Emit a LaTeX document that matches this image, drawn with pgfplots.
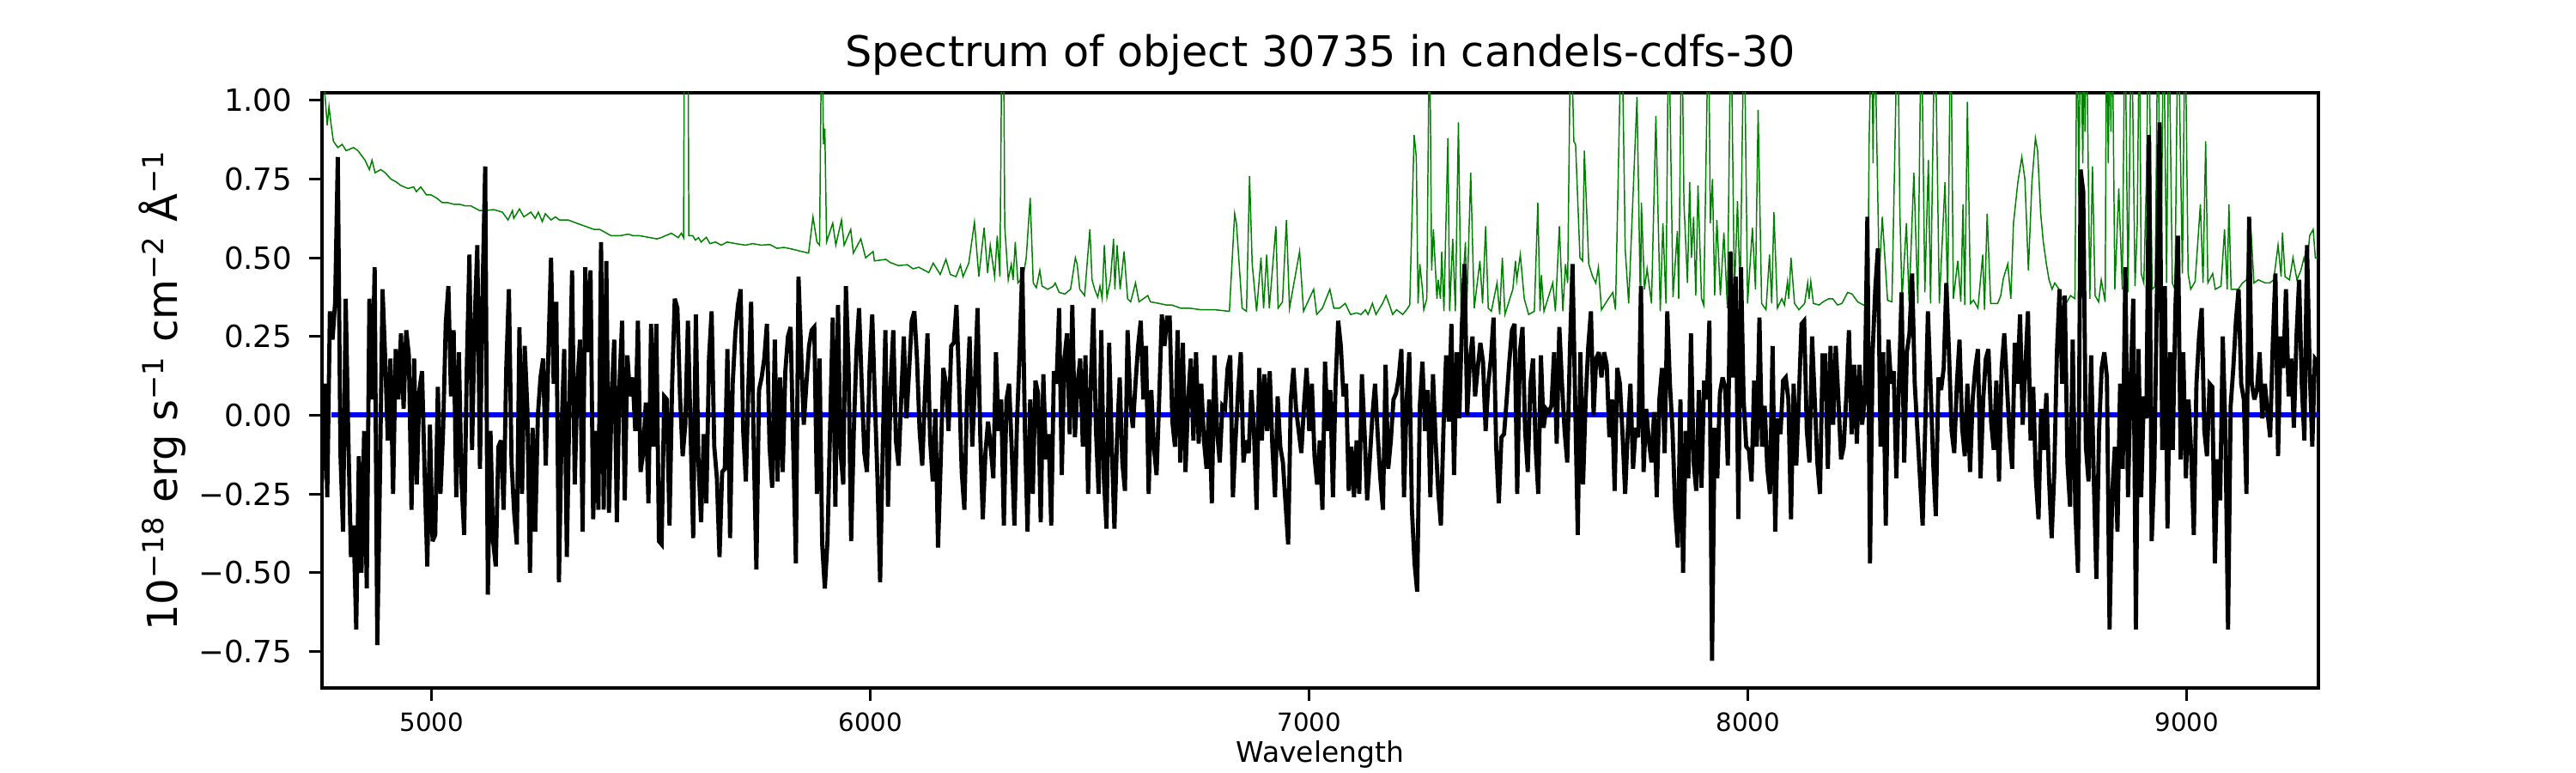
\documentclass[border=0pt]{standalone}
\usepackage{pgfplots}
\usepackage{pgfplotstable}
\pgfplotsset{compat=1.18}
\usepackage{fontspec}
\setmainfont{DejaVu Sans}
\definecolor{mplgreen}{HTML}{008000}
\definecolor{mplblue}{HTML}{0000FF}

\pgfplotstableread[row sep=\\]{f\\
-0.21\\ 0.10\\ -0.26\\ 0.33\\ 0.24\\ 0.36\\ 0.82\\ -0.12\\ -0.37\\ 0.37\\
-0.07\\ -0.45\\ -0.35\\ -0.68\\ -0.13\\ -0.50\\ -0.05\\ -0.55\\ 0.37\\ 0.05\\
0.47\\ -0.73\\ -0.20\\ 0.40\\ 0.18\\ -0.08\\ 0.18\\ -0.25\\ 0.21\\ 0.05\\
0.26\\ 0.02\\ 0.27\\ 0.19\\ -0.30\\ 0.18\\ -0.22\\ 0.08\\ 0.14\\ -0.19\\
-0.48\\ -0.03\\ -0.40\\ -0.38\\ 0.09\\ -0.25\\ -0.05\\ 0.29\\ 0.41\\ 0.06\\
0.27\\ -0.26\\ 0.20\\ -0.21\\ -0.38\\ 0.15\\ 0.51\\ -0.11\\ 0.30\\ 0.54\\
-0.17\\ 0.40\\ 0.79\\ -0.57\\ -0.05\\ -0.40\\ -0.48\\ -0.10\\ -0.08\\ -0.30\\
0.15\\ 0.40\\ -0.15\\ -0.31\\ -0.41\\ 0.28\\ -0.25\\ 0.22\\ 0.02\\ -0.50\\
-0.04\\ -0.37\\ 0.00\\ 0.12\\ 0.18\\ -0.16\\ 0.20\\ 0.50\\ 0.10\\ 0.36\\
-0.53\\ -0.05\\ 0.21\\ -0.45\\ 0.05\\ 0.46\\ -0.22\\ 0.10\\ 0.24\\ -0.37\\
0.47\\ 0.20\\ 0.46\\ -0.33\\ -0.05\\ -0.30\\ 0.55\\ -0.30\\ 0.49\\ -0.31\\
0.05\\ 0.24\\ -0.34\\ 0.10\\ 0.30\\ -0.27\\ 0.19\\ 0.06\\ 0.12\\ -0.05\\
0.30\\ -0.18\\ -0.12\\ 0.04\\ -0.28\\ 0.29\\ -0.10\\ 0.29\\ -0.40\\ -0.41\\
0.06\\
0.05\\ -0.35\\ 0.10\\ 0.37\\ 0.34\\ 0.06\\ -0.13\\ -0.03\\ 0.30\\ -0.05\\
-0.39\\ 0.32\\ -0.15\\ -0.34\\ -0.06\\ -0.28\\ 0.18\\ 0.33\\ -0.10\\ -0.20\\
-0.45\\ -0.18\\ -0.17\\ 0.21\\ -0.39\\ 0.10\\ 0.26\\ 0.35\\ 0.40\\ -0.05\\
-0.21\\ 0.10\\ 0.36\\ -0.10\\ -0.49\\ 0.08\\ 0.12\\ 0.18\\ 0.29\\ -0.10\\
-0.23\\ 0.24\\ -0.21\\ 0.12\\ -0.18\\ 0.14\\ 0.25\\ 0.28\\ -0.10\\ -0.47\\
0.44\\ 0.20\\ -0.03\\ 0.10\\ 0.22\\ 0.27\\ 0.28\\ -0.25\\ 0.18\\ -0.41\\
-0.55\\ -0.40\\ -0.04\\ 0.31\\ -0.29\\ 0.35\\ -0.12\\ -0.22\\ 0.41\\ 0.16\\
-0.40\\ -0.05\\ 0.20\\ 0.34\\ 0.10\\ -0.12\\ -0.18\\ 0.15\\ 0.32\\ 0.05\\
-0.20\\ -0.53\\ -0.10\\ 0.27\\ -0.29\\ 0.10\\ 0.27\\ -0.08\\ -0.16\\ 0.05\\
0.25\\ -0.01\\ 0.14\\ 0.30\\ 0.33\\ 0.18\\ -0.05\\ -0.16\\ 0.06\\ 0.26\\
-0.08\\ -0.21\\ 0.02\\ -0.42\\ -0.15\\ 0.15\\ 0.10\\ -0.05\\ 0.22\\ 0.23\\
0.35\\ 0.10\\ -0.18\\ -0.30\\ 0.05\\ 0.25\\ -0.10\\ 0.10\\ 0.34\\ -0.05\\
-0.33\\ -0.12\\ -0.02\\ -0.10\\ -0.20\\ 0.20\\ -0.05\\ 0.05\\ -0.35\\
0.05\\ 0.10\\ -0.11\\ -0.35\\ -0.02\\ 0.20\\ 0.47\\ -0.05\\ -0.37\\ 0.05\\
-0.25\\ 0.11\\ 0.07\\ -0.34\\ 0.13\\ -0.14\\ -0.06\\ -0.35\\ 0.14\\ 0.10\\
0.34\\ -0.19\\ 0.18\\ 0.26\\ -0.06\\ 0.35\\ -0.07\\ 0.10\\ 0.18\\ -0.10\\
0.19\\ -0.25\\ 0.10\\ 0.34\\ -0.05\\ -0.25\\ 0.27\\ -0.20\\ -0.36\\ 0.23\\
-0.10\\ -0.36\\ -0.07\\ 0.12\\ -0.15\\ -0.24\\ 0.27\\ 0.05\\ -0.04\\ 0.10\\
0.22\\ 0.30\\ 0.05\\ 0.22\\ -0.25\\ 0.08\\ -0.10\\ -0.19\\ 0.05\\ 0.32\\
0.22\\ 0.31\\ 0.31\\ -0.02\\ -0.10\\ 0.27\\ -0.15\\ 0.23\\ -0.18\\ 0.05\\
0.18\\ -0.08\\ 0.20\\ -0.09\\ 0.10\\ -0.08\\ -0.17\\ 0.05\\ -0.28\\ 0.19\\
-0.05\\ -0.15\\ 0.03\\ 0.02\\ 0.15\\ 0.19\\ -0.26\\ -0.08\\ 0.08\\ 0.20\\
-0.15\\ -0.08\\ -0.12\\ 0.08\\ -0.05\\ -0.30\\ 0.15\\ -0.08\\ 0.13\\ -0.05\\
0.14\\ -0.10\\ -0.26\\ 0.06\\ -0.10\\ -0.15\\ -0.28\\ -0.41\\ 0.05\\ 0.15\\
0.02\\ -0.05\\ -0.12\\ 0.03\\ 0.15\\ -0.05\\ 0.10\\ -0.13\\ -0.22\\ -0.08\\
-0.30\\ 0.17\\ -0.05\\ 0.08\\ -0.26\\ 0.10\\ 0.30\\ 0.22\\ 0.06\\
0.10\\ -0.24\\ -0.10\\ -0.26\\ -0.08\\ -0.25\\ 0.13\\ -0.05\\ -0.27\\ -0.14\\
0.00\\ 0.10\\ -0.06\\ -0.20\\ -0.30\\ 0.16\\ -0.17\\ -0.08\\ 0.05\\ 0.07\\
0.12\\ 0.21\\ -0.26\\ 0.05\\ 0.20\\ -0.30\\ -0.47\\ -0.56\\ 0.03\\ 0.17\\
-0.05\\ 0.08\\ -0.26\\ 0.13\\ -0.08\\ -0.24\\ -0.35\\ -0.04\\ 0.19\\ -0.02\\
0.29\\ -0.19\\ 0.20\\ -0.01\\ 0.29\\ 0.48\\ 0.00\\ 0.17\\ 0.25\\ 0.06\\
0.15\\ 0.23\\ 0.17\\ -0.05\\ 0.10\\ 0.18\\ 0.31\\ -0.10\\ -0.28\\ -0.07\\
-0.06\\ 0.05\\ 0.17\\ 0.27\\ 0.29\\ -0.25\\ 0.20\\ 0.28\\ -0.05\\ -0.18\\
0.10\\ 0.18\\ -0.10\\ -0.25\\ 0.19\\ -0.04\\ 0.02\\ 0.01\\ 0.03\\ 0.20\\
-0.09\\ 0.28\\ 0.10\\ -0.05\\ -0.15\\ 0.20\\ 0.48\\ 0.05\\ -0.38\\ 0.20\\
-0.22\\ 0.05\\ 0.22\\ 0.33\\ 0.00\\ 0.18\\ 0.20\\ 0.12\\ 0.20\\ 0.16\\
-0.07\\ 0.05\\ -0.24\\ 0.15\\ 0.10\\ -0.06\\ -0.25\\ -0.05\\ 0.10\\ -0.17\\
-0.04\\ -0.07\\ 0.41\\ -0.18\\ 0.02\\ -0.08\\ -0.15\\ 0.01\\ -0.26\\ 0.05\\
0.15\\ -0.12\\ 0.33\\ 0.10\\ -0.05\\ -0.30\\ -0.42\\ 0.05\\ -0.50\\
-0.05\\ -0.20\\ 0.26\\ -0.15\\ -0.24\\ 0.08\\ -0.23\\ 0.11\\ 0.05\\ 0.30\\
-0.78\\ -0.04\\ -0.20\\ 0.07\\ 0.12\\ 0.09\\ -0.16\\ 0.52\\ 0.12\\ 0.44\\
-0.33\\ 0.47\\ 0.05\\ -0.10\\ -0.11\\ -0.21\\ 0.11\\ -0.10\\ 0.31\\ -0.10\\
0.03\\ -0.17\\ -0.25\\ 0.22\\ -0.37\\ -0.01\\ -0.06\\ 0.11\\ 0.12\\ 0.05\\
-0.33\\ 0.10\\ -0.16\\ 0.06\\ 0.29\\ 0.30\\ -0.05\\ -0.15\\ 0.25\\ 0.05\\
-0.15\\ -0.25\\ 0.19\\ 0.19\\ -0.17\\ 0.22\\ -0.03\\ 0.22\\ 0.05\\ -0.14\\
-0.10\\ 0.06\\ 0.27\\ -0.06\\ 0.16\\ -0.09\\ 0.16\\ -0.03\\ 0.05\\ 0.63\\
-0.47\\ 0.20\\ 0.40\\ 0.53\\ -0.10\\ 0.20\\ -0.35\\ 0.24\\ 0.10\\ 0.14\\
-0.20\\ 0.10\\ 0.39\\ -0.15\\ 0.20\\ 0.26\\ 0.45\\ 0.10\\ -0.05\\ -0.20\\
-0.35\\ -0.03\\ 0.33\\ 0.10\\ -0.15\\ -0.32\\ 0.12\\ 0.08\\ 0.15\\ 0.42\\
0.20\\ -0.05\\ -0.12\\ 0.10\\ 0.24\\ -0.04\\ -0.13\\ 0.10\\ -0.18\\ 0.05\\
0.15\\ 0.21\\ -0.20\\ 0.05\\ 0.18\\ 0.21\\ -0.02\\ -0.11\\ 0.11\\ -0.21\\
0.15\\ 0.26\\ 0.10\\ -0.06\\ -0.17\\ 0.23\\ 0.10\\ 0.32\\
-0.03\\ 0.15\\ 0.33\\ -0.08\\ 0.09\\ -0.20\\ -0.33\\ 0.02\\ -0.11\\ 0.07\\
-0.20\\ -0.39\\ -0.18\\ 0.20\\ 0.40\\ 0.10\\ 0.38\\ -0.15\\ -0.29\\ 0.24\\
-0.30\\ -0.50\\ 0.78\\ 0.71\\ -0.10\\ -0.21\\ 0.19\\ -0.20\\ -0.52\\ -0.05\\
0.15\\ 0.20\\ 0.12\\ -0.68\\ -0.25\\ -0.10\\ -0.37\\ 0.10\\ -0.17\\ 0.47\\
-0.26\\ 0.10\\ 0.37\\ -0.68\\ 0.21\\ -0.26\\ 0.06\\ -0.01\\ 0.89\\ -0.40\\
-0.17\\ 0.40\\ 0.93\\ -0.11\\ 0.41\\ -0.36\\ 0.20\\ -0.11\\ 0.34\\ 0.57\\
-0.14\\ 0.20\\ -0.20\\ 0.05\\ -0.12\\ -0.38\\ 0.10\\ 0.25\\ 0.34\\ -0.05\\
-0.13\\ 0.10\\ 0.09\\ -0.47\\ -0.14\\ -0.27\\ 0.25\\ -0.05\\ -0.68\\ 0.03\\
0.15\\ 0.30\\ 0.40\\ 0.10\\ 0.05\\ -0.25\\ 0.63\\ 0.10\\ 0.05\\ 0.08\\
0.20\\ -0.01\\ 0.10\\ 0.01\\ -0.07\\ 0.23\\ 0.45\\ -0.13\\ 0.25\\ 0.15\\
0.40\\ 0.06\\ 0.18\\ -0.04\\ 0.25\\ 0.43\\ 0.10\\ -0.08\\ 0.54\\ 0.15\\
-0.10\\ 0.18\\ 0.17\\
}\fluxdata

\pgfplotstableread[row sep=\\]{x y\\
4750 1.30\\ 4756 1.03\\ 4762 0.92\\ 4766 0.98\\ 4771 0.92\\ 4776 0.87\\ 4786 0.85\\ 4796 0.86\\ 4805 0.84\\ 4822 0.85\\
4832 0.84\\ 4848 0.81\\ 4858 0.78\\ 4864 0.81\\ 4871 0.77\\ 4884 0.78\\ 4894 0.77\\ 4907 0.75\\ 4920 0.74\\ 4929 0.73\\
4946 0.72\\ 4959 0.725\\ 4965 0.71\\ 4975 0.725\\ 4988 0.70\\ 4998 0.70\\ 5011 0.69\\ 5024 0.675\\ 5037 0.675\\ 5050 0.67\\
5063 0.67\\ 5076 0.665\\ 5089 0.665\\ 5109 0.65\\ 5122 0.65\\ 5141 0.653\\ 5161 0.645\\ 5174 0.62\\ 5184 0.65\\ 5187 0.625\\
5200 0.655\\ 5210 0.63\\ 5226 0.645\\ 5236 0.625\\ 5243 0.645\\ 5252 0.615\\ 5259 0.64\\ 5272 0.62\\ 5282 0.63\\ 5291 0.62\\
5311 0.62\\ 5330 0.61\\ 5350 0.60\\ 5370 0.59\\ 5383 0.59\\ 5396 0.58\\ 5409 0.57\\ 5429 0.57\\ 5448 0.575\\ 5459 0.57\\
5474 0.57\\ 5494 0.565\\ 5513 0.56\\ 5523 0.564\\ 5546 0.578\\ 5562 0.564\\ 5569 0.578\\ 5574 0.564\\ 5576 1.30\\ 5584 1.30\\
5586 0.57\\ 5595 0.57\\ 5601 0.556\\ 5608 0.564\\ 5614 0.55\\ 5626 0.565\\ 5634 0.545\\ 5647 0.55\\ 5660 0.54\\ 5673 0.55\\
5693 0.545\\ 5715 0.54\\ 5732 0.545\\ 5751 0.54\\ 5771 0.542\\ 5787 0.53\\ 5803 0.533\\ 5823 0.527\\ 5843 0.52\\ 5859 0.515\\
5869 0.63\\ 5878 0.55\\ 5884 0.54\\ 5889 1.30\\ 5893 0.86\\ 5896 0.91\\ 5900 0.55\\ 5914 0.61\\ 5921 0.54\\ 5934 0.62\\
5940 0.54\\ 5955 0.59\\ 5961 0.515\\ 5978 0.56\\ 5989 0.50\\ 6006 0.52\\ 6009 0.49\\ 6035 0.495\\ 6045 0.485\\ 6064 0.475\\
6084 0.478\\ 6097 0.465\\ 6110 0.47\\ 6133 0.453\\ 6143 0.483\\ 6159 0.447\\ 6172 0.495\\ 6182 0.447\\ 6195 0.44\\ 6205 0.477\\
6211 0.44\\ 6224 0.483\\ 6237 0.613\\ 6247 0.44\\ 6259 0.595\\ 6267 0.452\\ 6273 0.54\\ 6283 0.44\\ 6289 0.57\\ 6295 0.44\\
6300 1.30\\ 6303 1.30\\ 6306 0.60\\ 6314 0.43\\ 6321 0.48\\ 6325 0.43\\ 6330 0.55\\ 6336 0.42\\ 6348 0.44\\ 6355 0.50\\
6364 0.69\\ 6371 0.42\\ 6378 0.405\\ 6386 0.46\\ 6391 0.41\\ 6404 0.40\\ 6417 0.41\\ 6421 0.42\\ 6430 0.39\\ 6443 0.385\\
6456 0.40\\ 6467 0.50\\ 6471 0.48\\ 6477 0.40\\ 6488 0.38\\ 6500 0.59\\ 6505 0.43\\ 6511 0.40\\ 6518 0.375\\ 6523 0.41\\
6528 0.37\\ 6533 0.54\\ 6539 0.375\\ 6547 0.43\\ 6554 0.56\\ 6557 0.40\\ 6562 0.54\\ 6569 0.40\\ 6578 0.52\\ 6586 0.37\\
6593 0.36\\ 6604 0.42\\ 6612 0.36\\ 6632 0.38\\ 6638 0.36\\ 6658 0.355\\ 6674 0.35\\ 6687 0.35\\ 6707 0.34\\ 6727 0.34\\
6753 0.335\\ 6785 0.335\\ 6818 0.33\\ 6830 0.64\\ 6834 0.61\\ 6847 0.34\\ 6857 0.33\\ 6864 0.76\\ 6870 0.48\\ 6880 0.33\\
6890 0.50\\ 6896 0.34\\ 6903 0.51\\ 6909 0.34\\ 6924 0.60\\ 6929 0.34\\ 6939 0.36\\ 6948 0.62\\ 6955 0.34\\ 6978 0.52\\
6987 0.33\\ 7000 0.37\\ 7010 0.40\\ 7017 0.32\\ 7030 0.34\\ 7047 0.40\\ 7056 0.34\\ 7069 0.34\\ 7082 0.355\\ 7094 0.32\\
7108 0.325\\ 7118 0.32\\ 7128 0.335\\ 7134 0.32\\ 7144 0.355\\ 7152 0.32\\ 7167 0.355\\ 7175 0.38\\ 7183 0.35\\ 7190 0.32\\
7199 0.335\\ 7213 0.32\\ 7222 0.335\\ 7229 0.35\\ 7239 0.89\\ 7244 0.82\\ 7248 0.355\\ 7252 0.48\\ 7258 0.40\\ 7261 0.335\\
7268 0.37\\ 7274 1.30\\ 7279 0.46\\ 7283 0.59\\ 7291 0.37\\ 7294 0.43\\ 7299 0.37\\ 7302 0.52\\ 7307 0.33\\ 7316 0.88\\
7320 0.33\\ 7327 0.56\\ 7333 0.33\\ 7340 0.93\\ 7346 0.33\\ 7356 0.55\\ 7359 0.34\\ 7368 0.77\\ 7376 0.34\\ 7389 0.49\\
7395 0.355\\ 7402 0.60\\ 7408 0.34\\ 7415 0.33\\ 7428 0.42\\ 7434 0.32\\ 7440 0.50\\ 7446 0.32\\ 7464 0.40\\ 7470 0.49\\
7473 0.43\\ 7481 0.51\\ 7490 0.37\\ 7500 0.32\\ 7513 0.33\\ 7521 0.675\\ 7526 0.33\\ 7529 0.445\\ 7535 0.33\\ 7555 0.42\\
7561 0.33\\ 7570 0.60\\ 7578 0.33\\ 7584 0.48\\ 7589 0.42\\ 7596 1.30\\ 7603 0.87\\ 7607 0.86\\ 7617 0.50\\ 7623 0.49\\
7627 0.84\\ 7637 0.48\\ 7646 0.44\\ 7653 0.42\\ 7659 0.47\\ 7666 0.335\\ 7682 0.37\\ 7692 0.39\\ 7698 0.335\\ 7712 1.30\\
7718 0.74\\ 7720 0.53\\ 7728 0.355\\ 7747 1.01\\ 7755 0.33\\ 7757 0.675\\ 7764 0.40\\ 7770 0.465\\ 7780 0.355\\ 7790 0.95\\
7800 0.33\\ 7806 0.61\\ 7813 0.355\\ 7819 1.30\\ 7829 0.375\\ 7839 0.585\\ 7842 0.37\\ 7849 1.30\\ 7854 0.67\\ 7856 0.61\\
7862 0.42\\ 7867 0.74\\ 7871 0.50\\ 7876 0.63\\ 7881 0.38\\ 7886 0.73\\ 7894 0.37\\ 7899 0.35\\ 7910 1.30\\ 7914 0.61\\
7919 0.75\\ 7924 0.38\\ 7929 0.62\\ 7937 0.38\\ 7945 0.58\\ 7953 0.34\\ 7961 1.30\\ 7969 0.38\\ 7976 0.68\\ 7982 0.38\\
7991 1.30\\ 7999 0.355\\ 8010 0.595\\ 8017 0.40\\ 8023 0.97\\ 8031 0.355\\ 8041 0.335\\ 8049 0.51\\ 8054 0.355\\ 8059 0.645\\
8067 0.34\\ 8077 0.37\\ 8083 0.35\\ 8090 0.425\\ 8093 0.37\\ 8098 0.50\\ 8106 0.355\\ 8116 0.335\\ 8129 0.355\\ 8136 0.42\\
8139 0.37\\ 8143 0.425\\ 8149 0.355\\ 8162 0.35\\ 8171 0.36\\ 8184 0.37\\ 8193 0.37\\ 8204 0.35\\ 8214 0.355\\ 8227 0.39\\
8237 0.385\\ 8250 0.36\\ 8263 0.35\\ 8273 0.35\\ 8276 0.87\\ 8282 1.30\\ 8285 0.80\\ 8288 1.30\\ 8299 0.44\\ 8306 0.63\\
8318 0.365\\ 8328 0.36\\ 8341 1.30\\ 8346 0.65\\ 8351 0.37\\ 8361 0.61\\ 8367 0.36\\ 8378 0.77\\ 8387 0.355\\ 8395 1.30\\
8403 0.39\\ 8411 0.81\\ 8416 0.355\\ 8426 1.30\\ 8436 0.355\\ 8449 0.74\\ 8455 0.37\\ 8462 1.30\\ 8468 0.37\\ 8478 0.49\\
8485 0.36\\ 8490 0.67\\ 8494 0.35\\ 8500 0.995\\ 8507 0.355\\ 8514 0.365\\ 8524 0.34\\ 8535 0.51\\ 8539 0.335\\ 8545 0.64\\
8553 0.355\\ 8569 0.355\\ 8576 0.38\\ 8582 0.435\\ 8592 0.48\\ 8599 0.37\\ 8605 0.61\\ 8615 0.74\\ 8624 0.82\\ 8631 0.75\\
8639 0.46\\ 8647 0.74\\ 8655 0.88\\ 8660 0.84\\ 8667 0.64\\ 8673 0.55\\ 8680 0.48\\ 8686 0.43\\ 8693 0.40\\ 8699 0.42\\
8709 0.40\\ 8716 0.37\\ 8725 0.355\\ 8735 0.38\\ 8745 0.37\\ 8750 1.30\\ 8754 0.70\\ 8758 1.30\\ 8763 0.80\\ 8766 1.30\\
8768 0.90\\ 8771 1.30\\ 8779 0.37\\ 8785 0.79\\ 8791 0.38\\ 8799 0.36\\ 8805 0.43\\ 8814 0.36\\ 8817 1.30\\ 8821 0.80\\
8825 1.30\\ 8827 0.90\\ 8830 1.30\\ 8836 0.40\\ 8845 0.72\\ 8853 0.40\\ 8859 1.30\\ 8866 0.39\\ 8874 1.30\\ 8882 0.41\\
8887 0.60\\ 8892 1.30\\ 8896 0.45\\ 8902 0.42\\ 8908 0.75\\ 8913 1.30\\ 8921 0.40\\ 8928 0.41\\ 8934 1.30\\ 8941 0.40\\
8947 1.30\\ 8954 0.42\\ 8959 1.30\\ 8967 0.42\\ 8973 0.40\\ 8980 1.30\\ 8990 0.45\\ 8996 1.30\\ 9003 0.45\\ 9009 0.40\\
9019 0.425\\ 9031 0.67\\ 9037 0.42\\ 9043 0.87\\ 9048 0.42\\ 9059 0.45\\ 9065 0.40\\ 9078 0.41\\ 9086 0.59\\ 9092 0.40\\
9096 0.67\\ 9101 0.40\\ 9117 0.40\\ 9127 0.42\\ 9136 0.43\\ 9145 0.62\\ 9153 0.42\\ 9163 0.43\\ 9179 0.42\\ 9189 0.42\\
9198 0.43\\ 9208 0.54\\ 9215 0.44\\ 9218 0.58\\ 9224 0.44\\ 9234 0.43\\ 9242 0.50\\ 9251 0.43\\ 9260 0.46\\ 9267 0.50\\
9273 0.46\\ 9280 0.57\\ 9288 0.59\\ 9293 0.50\\ 9298 0.50\\
}\errdata

\begin{document}
\begin{tikzpicture}
\begin{axis}[
  at={(0,0)}, anchor=south west,
  scale only axis,
  width=627.75pt, height=187.11pt,
  xmin=4750, xmax=9300, ymin=-0.866, ymax=1.024,
  axis line style={line width=0.9pt},
  tick style={line width=0.8pt, black},
  major tick length=4pt,
  tick align=outside,
  xtick pos=left, ytick pos=left,
  xtick={5000,6000,7000,8000,9000},
  xticklabels={5000,6000,7000,8000,9000},
  ytick={-0.75,-0.5,-0.25,0,0.25,0.5,0.75,1},
  yticklabels={−0.75,−0.50,−0.25,0.00,0.25,0.50,0.75,1.00},
  minor tick num=0,
  xticklabel style={font=\fontsize{7.9}{9}\selectfont, anchor=base, inner sep=0pt},
  xticklabel shift=9.7pt,
  yticklabel style={font=\fontsize{9.6}{11}\selectfont, anchor=east, inner sep=0pt},
  yticklabel shift=5.2pt,
  title={Spectrum of object 30735 in candels-cdfs-30},
  title style={font=\fontsize{13.3}{15}\selectfont, at={(axis description cs:0.5,1)}, anchor=base, yshift=2.1pt, inner sep=0pt},
  xlabel={Wavelength},
  xlabel style={font=\fontsize{8.9}{10}\selectfont, at={([yshift=-23.3pt]axis description cs:0.5,0)}, anchor=base, inner sep=0pt},
  ylabel={10\textsuperscript{−18} erg s\textsuperscript{−1} cm\textsuperscript{−2} Å\textsuperscript{−1}},
  ylabel style={font=\fontsize{13}{15}\selectfont, at={([xshift=-45.4pt]axis description cs:0,0.5)}, anchor=base, inner sep=0pt},
]
\addplot[mplgreen, line width=0.4pt, no markers] table[x=x, y=y] {\errdata};
\addplot[mplblue, line width=1.6pt, no markers] coordinates {(4771,0) (9300,0)};
\addplot[black, line width=1.3pt, no markers, line join=miter, miter limit=4] table[x expr={4750+6*\coordindex}, y=f] {\fluxdata};
\end{axis}
\pgfresetboundingbox
\path[use as bounding box] (-101.25pt,-26.73pt) rectangle (708.75pt,216.27pt);
\end{tikzpicture}
\end{document}
